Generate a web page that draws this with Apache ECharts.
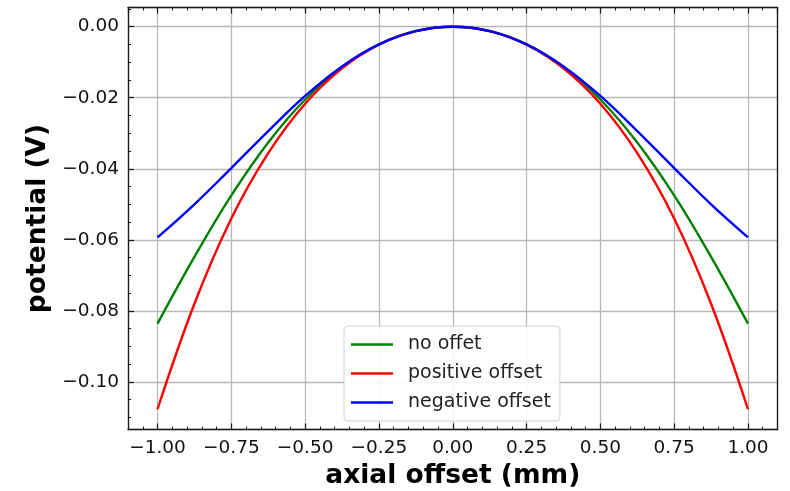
<!DOCTYPE html>
<html>
<head>
<meta charset="utf-8">
<script src="https://cdn.jsdelivr.net/npm/echarts@6/dist/echarts.min.js"></script>
<style>
html,body{margin:0;padding:0;background:#fff;}
#chart{width:790px;height:491px;}
</style>
</head>
<body>
<div id="chart"></div>
<script>
// ---- data ----
const xValues = [-1, -0.875, -0.75, -0.625, -0.5, -0.375, -0.25, -0.125, 0,
                 0.125, 0.25, 0.375, 0.5, 0.625, 0.75, 0.875, 1];
const noOffset = [-0.0836, -0.0648, -0.0475, -0.0326, -0.0205, -0.01133, -0.00496, -0.00122, 0,
                  -0.00122, -0.00496, -0.01133, -0.0205, -0.0326, -0.0475, -0.0648, -0.0836];
const positiveOffset = [-0.1077, -0.0780, -0.0540, -0.0356, -0.0217, -0.01173, -0.00506, -0.00124, 0,
                        -0.00124, -0.00506, -0.01173, -0.0217, -0.0356, -0.0540, -0.0780, -0.1077];
const negativeOffset = [-0.0593, -0.0500, -0.0398, -0.0294, -0.0195, -0.0112, -0.00500, -0.00125, 0,
                        -0.00125, -0.00500, -0.0112, -0.0195, -0.0294, -0.0398, -0.0500, -0.0593];
const seriesNames = ['no offet', 'positive offset', 'negative offset'];
const seriesColors = ['#008000', '#ff0000', '#0000ff'];
const xTitle = 'axial offset (mm)';
const yTitle = 'potential (V)';
const xMajor = 0.25, xMinor = 0.05, yMajor = 0.02, yMinor = 0.005;
const xMin = -1.1, xMax = 1.1, yMin = -0.1134, yMax = 0.0054;

const FONT = 'DejaVu Sans';
const frameColor = '#1a1a1a';
const gridColor = '#b8b8b8';

function isMultiple(v, step) {
  const r = v / step;
  return Math.abs(r - Math.round(r)) < 1e-6;
}
function fmt(v, step) {
  if (!isMultiple(v, step)) return '';
  let s = Math.abs(v) < 1e-12 ? '0.00' : v.toFixed(2);
  return s.replace('-', '\u2212');
}

const chart = echarts.init(document.getElementById('chart'), null, {renderer: 'canvas'});

const grid = {left: 128, right: 12.5, top: 7.5, bottom: 61.5, containLabel: false, outerBoundsMode: 'none'};

function baseX(extra) {
  return Object.assign({
    type: 'value', min: xMin, max: xMax, gridIndex: 0,
    axisLine: {show: false, onZero: false}, axisTick: {show: false}, axisLabel: {show: false},
    splitLine: {show: false}, minorTick: {show: false}
  }, extra);
}
function baseY(extra) {
  return Object.assign({
    type: 'value', min: yMin, max: yMax, gridIndex: 0,
    axisLine: {show: false, onZero: false}, axisTick: {show: false}, axisLabel: {show: false},
    splitLine: {show: false}, minorTick: {show: false}
  }, extra);
}

const option = {
  animation: false,
  backgroundColor: '#ffffff',
  grid: grid,
  xAxis: [
    baseX({
      position: 'bottom', minInterval: xMajor, maxInterval: xMajor,
      axisLine: {show: true, onZero: false, lineStyle: {color: frameColor, width: 1.3}},
      axisTick: {show: true, inside: true, length: 6, lineStyle: {color: frameColor, width: 1.2}},
      axisLabel: {show: true, margin: 9, color: '#111', fontFamily: FONT, fontSize: 18.5,
                  showMinLabel: false, showMaxLabel: false,
                  formatter: v => fmt(v, xMajor)},
      splitLine: {show: true, lineStyle: {color: gridColor, width: 1.3}},
      name: xTitle, nameLocation: 'middle', nameGap: 31,
      nameTextStyle: {fontFamily: FONT, fontSize: 26.5, fontWeight: 'bold', color: '#000'}
    }),
    baseX({
      position: 'top', minInterval: xMajor, maxInterval: xMajor,
      axisLine: {show: true, onZero: false, lineStyle: {color: frameColor, width: 1.3}},
      axisTick: {show: true, inside: true, length: 6, lineStyle: {color: frameColor, width: 1.2}}
    }),
    baseX({
      position: 'bottom', minInterval: xMinor, maxInterval: xMinor,
      axisTick: {show: true, inside: true, length: 3, lineStyle: {color: frameColor, width: 1}}
    }),
    baseX({
      position: 'top', minInterval: xMinor, maxInterval: xMinor,
      axisTick: {show: true, inside: true, length: 3, lineStyle: {color: frameColor, width: 1}}
    })
  ],
  yAxis: [
    baseY({
      position: 'left', minInterval: yMajor, maxInterval: yMajor,
      axisLine: {show: true, onZero: false, lineStyle: {color: frameColor, width: 1.3}},
      axisTick: {show: true, inside: true, length: 6, lineStyle: {color: frameColor, width: 1.2}},
      axisLabel: {show: true, margin: 9, color: '#111', fontFamily: FONT, fontSize: 18.5,
                  showMinLabel: false, showMaxLabel: false,
                  formatter: v => fmt(v, yMajor)},
      splitLine: {show: true, lineStyle: {color: gridColor, width: 1.3}},
      name: yTitle, nameLocation: 'middle', nameGap: 75, nameRotate: 90,
      nameTextStyle: {fontFamily: FONT, fontSize: 26.5, fontWeight: 'bold', color: '#000'}
    }),
    baseY({
      position: 'left', minInterval: yMinor, maxInterval: yMinor,
      axisTick: {show: true, inside: true, length: 3, lineStyle: {color: frameColor, width: 1}}
    }),
    baseY({
      position: 'right',
      axisLine: {show: true, onZero: false, lineStyle: {color: frameColor, width: 1.3}}
    })
  ],
  legend: {
    orient: 'vertical',
    left: 344, top: 326,
    data: seriesNames,
    icon: 'rect',
    itemWidth: 42, itemHeight: 2.5,
    itemGap: 8,
    padding: [8, 9, 8, 7],
    backgroundColor: 'rgba(255,255,255,0.85)',
    borderColor: '#d0d0d0', borderWidth: 1, borderRadius: 4,
    textStyle: {fontFamily: FONT, fontSize: 19, color: '#222', lineHeight: 21, padding: [0, 0, 0, 10]}
  },
  series: [noOffset, positiveOffset, negativeOffset].map((vals, i) => ({
    name: seriesNames[i],
    type: 'line',
    xAxisIndex: 0, yAxisIndex: 0,
    data: xValues.map((x, j) => [x, vals[j]]),
    showSymbol: false,
    smooth: 0.4,
    lineStyle: {color: seriesColors[i], width: 2.4},
    itemStyle: {color: seriesColors[i]},
    z: 3
  }))
};
chart.setOption(option);
</script>
</body>
</html>
